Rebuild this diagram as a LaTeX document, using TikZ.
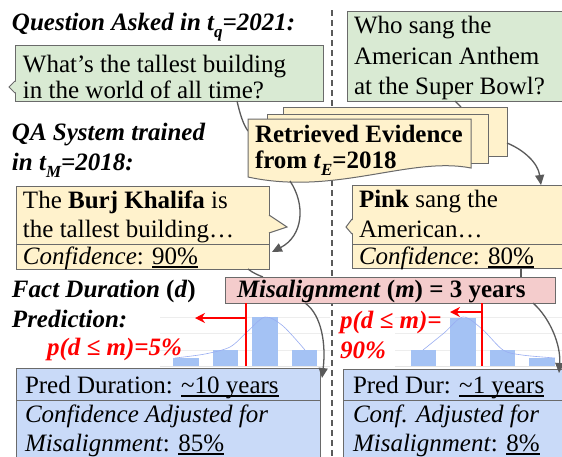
\documentclass[tikz,border=0pt]{standalone}
\usepackage{fontspec}
\setmainfont{Liberation Serif}
\usetikzlibrary{arrows.meta}
\definecolor{qgreen}{HTML}{D9EAD3}
\definecolor{ayellow}{HTML}{FFF2CC}
\definecolor{mpink}{HTML}{F4CCCC}
\definecolor{pblue}{HTML}{C9DAF8}
\definecolor{barc}{HTML}{A4C2F4}
\definecolor{bord}{HTML}{6A6A6A}
\definecolor{arr}{HTML}{5A5A5A}
\definecolor{gridc}{HTML}{EDEDED}
\definecolor{curvec}{HTML}{9AAEF2}
\newcommand\tf{\fontsize{25}{29}\selectfont}
\newcommand\mysub[1]{\raisebox{-7pt}{\fontsize{17}{17}\selectfont #1}}
\newcommand\myul[1]{\setbox0=\hbox{#1}\rlap{\rule[-3.5pt]{\wd0}{2pt}}\box0}
\begin{document}
\begin{tikzpicture}[x=1pt,y=-1pt,
  box/.style={draw=bord, line width=1pt, inner sep=0pt, outer sep=0pt, anchor=north west},
  txt/.style={anchor=base west, inner sep=0pt, outer sep=0pt, font=\tf},
  conn/.style={draw=arr, line width=1.3pt},
  arrowc/.style={conn, -{Triangle[length=10pt,width=9pt]}},
  redl/.style={draw=red, line width=2pt},
  redarr/.style={redl, -{Stealth[length=10pt,width=10pt]}},
  gridl/.style={draw=gridc, line width=0.8pt},
  barst/.style={fill=barc, draw=none},
  curvest/.style={draw=curvec, line width=0.6pt},
  dashl/.style={draw=arr, line width=1.5pt, dash pattern=on 6pt off 4pt}]
\useasboundingbox (0,0) rectangle (562,456);
\clip (0,0) rectangle (562,456);
\fill[white] (0,0) rectangle (562,456);

% divider
\coordinate (dtop) at (332,10);
\coordinate (dbot) at (332,460);
\draw[dashl] (dtop) -- (dbot);

% question boxes
\node[box, fill=qgreen, minimum width=308pt, minimum height=56pt] (qL) at (15,45) {};
\fill[qgreen] (16.5,81) -- (9,87) -- (16.5,93) -- cycle;
\draw[bord, line width=1pt] (15,81) -- (9,87) -- (15,93);
\node[box, fill=qgreen, minimum width=230pt, minimum height=90pt] (qR) at (347,11) {};

% connectors from questions to evidence
\coordinate (c1a) at (237,101);
\coordinate (c1b) at (248,131);
\draw[conn] (c1a) .. controls (240,114) and (243,124) .. (c1b);
\coordinate (c2a) at (455,101);
\coordinate (c2b) at (461,107);
\draw[conn] (c2a) -- (c2b);

% evidence stack
\node[box, fill=ayellow, minimum width=224pt, minimum height=49pt] (evB) at (283,107) {};
\node[box, fill=ayellow, minimum width=221pt, minimum height=49pt] (evM) at (267,114) {};
\draw[bord, line width=1pt, fill=ayellow] (248,119) -- (471,119) -- (471,168)
  .. controls (410,156) and (335,196) .. (248,177) -- cycle;
\coordinate (evF) at (290,181);

% answer boxes
\node[box, fill=ayellow, minimum width=253pt, minimum height=83pt] (aL) at (16,186) {};
\fill[ayellow] (267.5,215) -- (287,227) -- (267.5,233) -- cycle;
\draw[bord, line width=1pt] (269,215) -- (287,227) -- (269,233);
\draw[bord, line width=1pt] (16,244) -- (269,244);
\node[box, fill=ayellow, minimum width=230pt, minimum height=83pt] (aR) at (352,185) {};
\fill[ayellow] (353.5,219) -- (346,227) -- (353.5,234) -- cycle;
\draw[bord, line width=1pt] (352,219) -- (346,227) -- (352,234);
\draw[bord, line width=1pt] (352,244) -- (570,244);

% arrows evidence -> answers
\coordinate (aLin) at (272,252);
\coordinate (aRin) at (541,185);
\coordinate (evBr) at (507,143);
\draw[arrowc] (evF) .. controls (306,205) and (303,236) .. (aLin);
\draw[arrowc] (evBr) .. controls (524,150) and (538,163) .. (aRin);

% answers -> misalignment
\coordinate (c3a) at (248,269);
\coordinate (c3b) at (263,277);
\draw[conn] (c3a) .. controls (253,273) and (258,275) .. (c3b);
\coordinate (c4a) at (521,268);
\coordinate (c4b) at (521,277);
\draw[conn] (c4a) -- (c4b);

% misalignment box
\node[box, fill=mpink, minimum width=330pt, minimum height=26pt] (mis) at (225,277) {};

% histogram left
\foreach \yy in {317,333,350} \draw[gridl] (160,\yy) -- (330,\yy);
\draw[draw=gridc!80!black!40, line width=0.8pt] (160,366) -- (330,366);
\fill[barc] (173,358) rectangle (199,366);
\fill[barc] (213,350) rectangle (238,366);
\fill[barc] (252,317) rectangle (278,366);
\fill[barc] (292,350) rectangle (317,366);
\draw[curvest] plot[smooth] coordinates {(175,358) (205,354) (230,347) (247,332) (265,317) (283,326) (305,350)};
% histogram right
\foreach \yy in {317,333,350} \draw[gridl] (395,\yy) -- (562,\yy);
\draw[draw=gridc!80!black!40, line width=0.8pt] (395,366) -- (562,366);
\fill[barc] (411,350) rectangle (436,366);
\fill[barc] (450,318) rectangle (476,366);
\fill[barc] (490,350) rectangle (515,366);
\fill[barc] (529,358) rectangle (555,366);
\draw[curvest] plot[smooth] coordinates {(423,350) (444,333) (463,317) (482,329) (503,350) (522,355) (555,358)};

% red markers
\coordinate (rL1) at (246,303);
\coordinate (rL2) at (246,366);
\coordinate (rL3) at (246,318);
\coordinate (rL4) at (195,318);
\draw[redl] (rL1) -- (rL2);
\draw[redarr] (rL3) -- (rL4);
\coordinate (rR1) at (482,303);
\coordinate (rR2) at (482,366);
\coordinate (rR3) at (482,312);
\coordinate (rR4) at (450,312);
\draw[redl] (rR1) -- (rR2);
\draw[redarr] (rR3) -- (rR4);

% prediction boxes
\node[box, fill=pblue, minimum width=304pt, minimum height=110pt] (pL) at (16,368) {};
\draw[bord, line width=1pt] (16,400) -- (320,400);
\node[box, fill=pblue, minimum width=230pt, minimum height=110pt] (pR) at (343,369) {};
\draw[bord, line width=1pt] (343,400) -- (570,400);

% arrows misalignment -> predictions
\coordinate (m1) at (305,303);
\coordinate (pLin) at (322,378);
\draw[arrowc] (m1) .. controls (322,315) and (326,345) .. (pLin);
\coordinate (m2) at (533,303);
\coordinate (pRin) at (559,373);
\draw[arrowc] (m2) .. controls (550,318) and (561,345) .. (pRin);

% ---- texts ----
\node[txt] (t1) at (12,30) {\textbf{\textit{Question Asked in t\mysub{q}=2021:}}};
\node[txt] (t2) at (12,140) {\textbf{\textit{QA System trained}}};
\node[txt] (t3) at (12,170) {\textbf{\textit{in t\mysub{M}=2018:}}};
\node[txt] (t4) at (12,297) {\textbf{\textit{Fact Duration} (\textit{d})}};
\node[txt] (t5) at (12,327) {\textbf{\textit{Prediction:}}};
\node[txt, text=red] (r1) at (47,355) {\textbf{\textit{p(d ≤ m)=5\%}}};
\node[txt, text=red] (r2) at (340,328) {\textbf{\textit{p(d ≤ m)=}}};
\node[txt, text=red] (r3) at (340,358) {\textbf{\textit{90\%}}};

\node[txt] (q1) at (23,72) {What’s the tallest building};
\node[txt] (q2) at (23,98) {in the world of all time?};
\node[txt] (q3) at (354,33) {Who sang the};
\node[txt] (q4) at (354,64) {American Anthem};
\node[txt] (q5) at (354,94) {at the Super Bowl?};

\node[txt] (e1) at (255,142) {\textbf{Retrieved Evidence}};
\node[txt] (e2) at (255,168) {\textbf{from \textit{t}\mysub{\textit{E}}=2018}};

\node[txt] (a1) at (23,208) {The \textbf{Burj Khalifa} is};
\node[txt] (a2) at (23,237) {the tallest building…};
\node[txt] (a3) at (23,264) {\textit{Confidence}: \myul{90\%}};
\node[txt] (a4) at (359,207) {\textbf{Pink} sang the};
\node[txt] (a5) at (359,237) {American…};
\node[txt] (a6) at (359,264) {\textit{Confidence}: \myul{80\%}};

\node[txt] (mt) at (237,297) {\textbf{\textit{Misalignment} (\textit{m}) = 3 years}};

\node[txt] (p1) at (25,393) {Pred Duration: \myul{\textasciitilde10 years}};
\node[txt] (p2) at (25,422) {\textit{Confidence Adjusted for}};
\node[txt] (p3) at (25,451) {\textit{Misalignment}: \myul{85\%}};
\node[txt] (p4) at (353,393) {Pred Dur: \myul{\textasciitilde1 years}};
\node[txt] (p5) at (353,422) {\textit{Conf. Adjusted for}};
\node[txt] (p6) at (353,451) {\textit{Misalignment}: \myul{8\%}};
\end{tikzpicture}
\end{document}
